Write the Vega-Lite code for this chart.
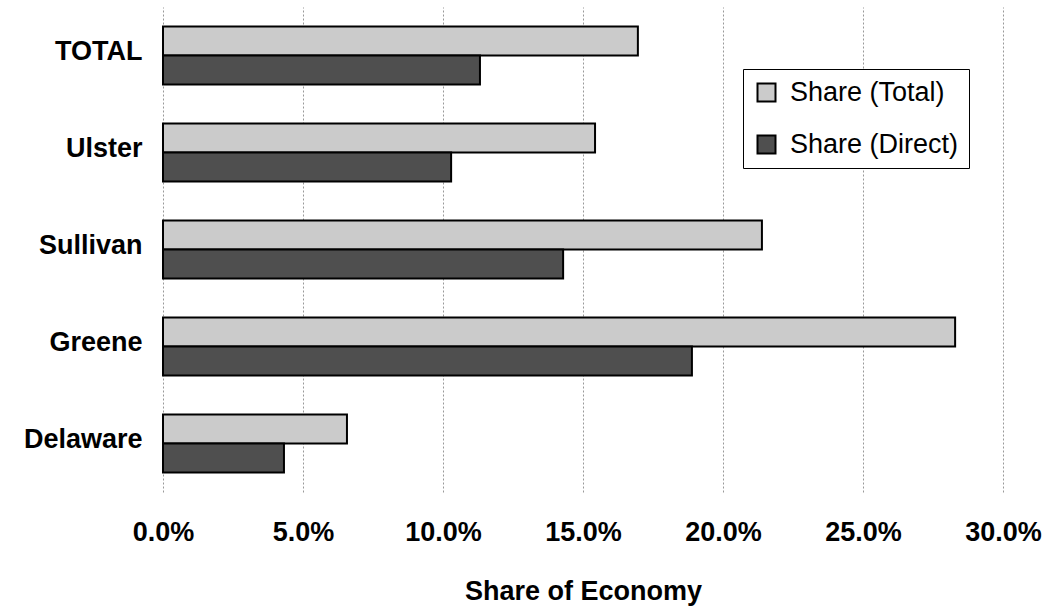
{
  "$schema": "https://vega.github.io/schema/vega-lite/v6.json",
  "autosize": {"type": "none"},
  "padding": {"left": 163, "top": 7, "right": 41, "bottom": 116},
  "width": 840,
  "height": 485,
  "background": "white",
  "config": {"view": {"stroke": null}, "font": "Liberation Sans"},
  "data": {
    "values": [
      {"region": "TOTAL", "series": "Share (Total)", "share": 0.1696},
      {"region": "TOTAL", "series": "Share (Direct)", "share": 0.1132},
      {"region": "Ulster", "series": "Share (Total)", "share": 0.1543},
      {"region": "Ulster", "series": "Share (Direct)", "share": 0.1029},
      {"region": "Sullivan", "series": "Share (Total)", "share": 0.2139},
      {"region": "Sullivan", "series": "Share (Direct)", "share": 0.1429},
      {"region": "Greene", "series": "Share (Total)", "share": 0.2829},
      {"region": "Greene", "series": "Share (Direct)", "share": 0.1889},
      {"region": "Delaware", "series": "Share (Total)", "share": 0.0657},
      {"region": "Delaware", "series": "Share (Direct)", "share": 0.0432}
    ]
  },
  "mark": {"type": "bar", "stroke": "black", "strokeWidth": 2},
  "encoding": {
    "y": {
      "field": "region",
      "type": "nominal",
      "sort": ["TOTAL", "Ulster", "Sullivan", "Greene", "Delaware"],
      "scale": {"paddingInner": 0.4, "paddingOuter": 0.2},
      "axis": {
        "title": null,
        "domain": false,
        "ticks": false,
        "labelPadding": 21,
        "labelFontSize": 27,
        "labelFontWeight": "bold",
        "labelColor": "black",
        "labelOffset": -4
      }
    },
    "yOffset": {
      "field": "series",
      "type": "nominal",
      "sort": ["Share (Total)", "Share (Direct)"]
    },
    "x": {
      "field": "share",
      "type": "quantitative",
      "scale": {"domain": [0, 0.3], "nice": false},
      "axis": {
        "title": "Share of Economy",
        "format": ".1%",
        "values": [0, 0.05, 0.1, 0.15, 0.2, 0.25, 0.3],
        "domain": false,
        "ticks": false,
        "labelPadding": 27,
        "labelFontSize": 27,
        "labelFontWeight": "bold",
        "labelColor": "black",
        "labelFlush": false,
        "labelBound": false,
        "labelOverlap": false,
        "grid": true,
        "gridColor": "#999999",
        "gridDash": [2, 2],
        "gridWidth": 1,
        "titleFontSize": 27,
        "titleFontWeight": "bold",
        "titleColor": "black",
        "titlePadding": 33
      }
    },
    "fill": {
      "field": "series",
      "type": "nominal",
      "sort": ["Share (Total)", "Share (Direct)"],
      "scale": {"domain": ["Share (Total)", "Share (Direct)"], "range": ["#cbcbcb", "#4f4f4f"]},
      "legend": {
        "title": null,
        "orient": "none",
        "legendX": 580,
        "legendY": 62,
        "strokeColor": "black",
        "fillColor": "white",
        "padding": 10,
        "symbolType": "square",
        "symbolSize": 324,
        "symbolStrokeColor": "black",
        "symbolStrokeWidth": 2,
        "labelFontSize": 27,
        "labelColor": "black",
        "labelOffset": 10,
        "labelLimit": 400,
        "rowPadding": 24
      }
    }
  }
}
